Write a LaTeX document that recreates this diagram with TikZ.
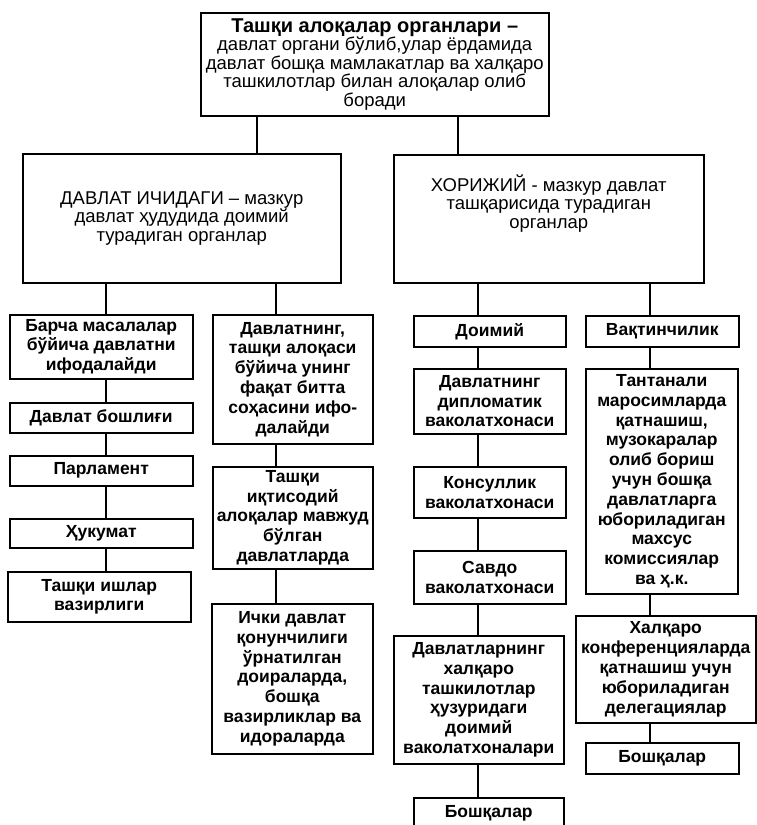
\documentclass[tikz,border=0pt]{standalone}
\usepackage{fontspec}
\setmainfont{Liberation Sans}
\tikzset{
    quti/.style={
        rectangle,
        draw,
        line width=1.5pt,
        align=center,
        anchor=north west,
        inner sep=0pt,
        font=\fontsize{17.5}{19.8}\selectfont\bfseries
    },
    oddiy/.style={quti, font=\fontsize{18.5}{18.6}\selectfont},
    chiziq/.style={line width=1.5pt}
}

\begin{document}
\begin{tikzpicture}[x=1pt, y=-1pt]
    \useasboundingbox (0,0) rectangle (757,825);

    % yuqori daraja
    \node[oddiy, minimum width=348pt, minimum height=103pt] (asosiy) at (200,12)
        {{\fontsize{20}{18.6}\selectfont\bfseries Ташқи алоқалар органлари –}\\давлат органи бўлиб,улар ёрдамида\\давлат бошқа мамлакатлар ва халқаро\\ташкилотлар билан алоқалар олиб\\боради};

    \node[oddiy, minimum width=318pt, minimum height=129pt] (ichki) at (22,153)
        {ДАВЛАТ ИЧИДАГИ – мазкур\\давлат ҳудудида доимий\\турадиган органлар};
    \node[oddiy, minimum width=310pt, minimum height=128pt] (xorijiy) at (393,154)
        {ХОРИЖИЙ - мазкур давлат\\ташқарисида турадиган\\органлар\\[16pt]};

    % ustunlar
    \coordinate (uA) at (257,0);
    \coordinate (uB) at (458,0);
    \coordinate (u1) at (106,0);
    \coordinate (u2) at (276,0);
    \coordinate (u3) at (478,0);
    \coordinate (u4) at (650,0);

    % davlat ichidagi
    \node[quti, minimum width=183pt, minimum height=64pt] (barcha) at (9,314)
        {Барча масалалар\\бўйича давлатни\\ифодалайди};
    \node[quti, minimum width=183pt, minimum height=30pt] (boshliq) at (9,402)
        {Давлат бошлиғи};
    \node[quti, minimum width=183pt, minimum height=30pt] (parlament) at (9,455)
        {Парламент};
    \node[quti, minimum width=183pt, minimum height=29pt] (hukumat) at (9,518)
        {Ҳукумат};
    \node[quti, minimum width=183pt, minimum height=50pt] (vazirlik) at (7,571)
        {Ташқи ишлар\\вазирлиги};

    \node[quti, minimum width=160pt, minimum height=129pt] (soha) at (212,314)
        {Давлатнинг,\\ташқи алоқаси\\бўйича унинг\\фақат битта\\соҳасини ифо-\\далайди};
    \node[quti, minimum width=160pt, minimum height=102pt] (iqtisod) at (212,466)
        {Ташқи\\иқтисодий\\алоқалар мавжуд\\бўлган\\давлатларда};
    \node[quti, minimum width=161pt, minimum height=150pt] (qonun) at (211,603)
        {Ички давлат\\қонунчилиги\\ўрнатилган\\доираларда,\\бошқа\\вазирликлар ва\\идораларда};

    % xorijiy
    \node[quti, minimum width=152pt, minimum height=31pt] (doimiy) at (413,315)
        {Доимий};
    \node[quti, minimum width=152pt, minimum height=65pt] (diplomat) at (413,368)
        {Давлатнинг\\дипломатик\\ваколатхонаси};
    \node[quti, minimum width=152pt, minimum height=51pt] (konsul) at (413,466)
        {Консуллик\\ваколатхонаси};
    \node[quti, minimum width=152pt, minimum height=53pt] (savdo) at (413,550)
        {Савдо\\ваколатхонаси};
    \node[quti, minimum width=170pt, minimum height=128pt] (xalqaro) at (393,635)
        {Давлатларнинг\\халқаро\\ташкилотлар\\ҳузуридаги\\доимий\\ваколатхоналари};
    \node[quti, minimum width=150pt, minimum height=31pt] (boshqaA) at (413,797)
        {Бошқалар};

    \node[quti, minimum width=153pt, minimum height=31pt] (vaqtincha) at (585,315)
        {Вақтинчилик};
    \node[quti, minimum width=152pt, minimum height=225pt] (tantana) at (585,368)
        {Тантанали\\маросимларда\\қатнашиш,\\музокаралар\\олиб бориш\\учун бошқа\\давлатларга\\юбориладиган\\махсус\\комиссиялар\\ва ҳ.к.};
    \node[quti, minimum width=180pt, minimum height=107pt] (konferensiya) at (575,615)
        {Халқаро\\конференцияларда\\қатнашиш учун\\юбориладиган\\делегациялар};
    \node[quti, minimum width=153pt, minimum height=31pt] (boshqaB) at (585,742)
        {Бошқалар};

    % bog'lanishlar
    \draw[chiziq] (asosiy.south -| uA) -- (ichki.north -| uA);
    \draw[chiziq] (asosiy.south -| uB) -- (xorijiy.north -| uB);

    \draw[chiziq] (ichki.south -| u1) -- (barcha.north -| u1);
    \draw[chiziq] (barcha.south -| u1) -- (boshliq.north -| u1);
    \draw[chiziq] (boshliq.south -| u1) -- (parlament.north -| u1);
    \draw[chiziq] (parlament.south -| u1) -- (hukumat.north -| u1);
    \draw[chiziq] (hukumat.south -| u1) -- (vazirlik.north -| u1);

    \draw[chiziq] (ichki.south -| u2) -- (soha.north -| u2);
    \draw[chiziq] (soha.south -| u2) -- (iqtisod.north -| u2);
    \draw[chiziq] (iqtisod.south -| u2) -- (qonun.north -| u2);

    \draw[chiziq] (xorijiy.south -| u3) -- (doimiy.north -| u3);
    \draw[chiziq] (doimiy.south -| u3) -- (diplomat.north -| u3);
    \draw[chiziq] (diplomat.south -| u3) -- (konsul.north -| u3);
    \draw[chiziq] (konsul.south -| u3) -- (savdo.north -| u3);
    \draw[chiziq] (savdo.south -| u3) -- (xalqaro.north -| u3);
    \draw[chiziq] (xalqaro.south -| u3) -- (boshqaA.north -| u3);

    \draw[chiziq] (xorijiy.south -| u4) -- (vaqtincha.north -| u4);
    \draw[chiziq] (vaqtincha.south -| u4) -- (tantana.north -| u4);
    \draw[chiziq] (tantana.south -| u4) -- (konferensiya.north -| u4);
    \draw[chiziq] (konferensiya.south -| u4) -- (boshqaB.north -| u4);
\end{tikzpicture}
\end{document}
